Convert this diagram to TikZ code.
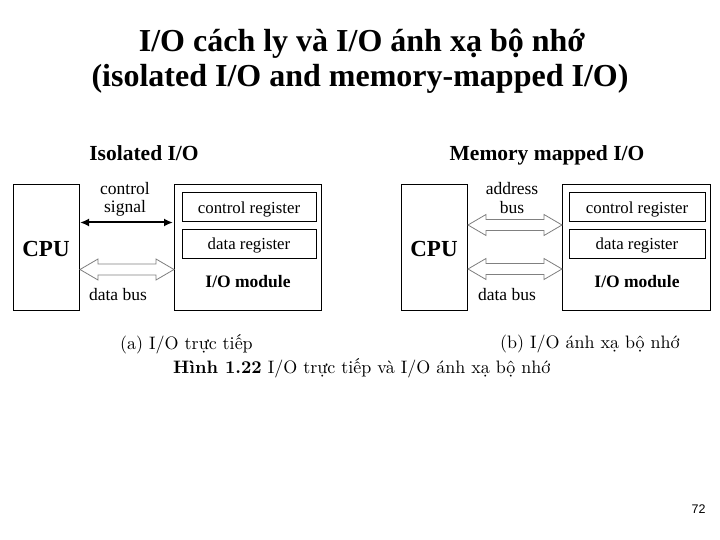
\documentclass[tikz,border=0pt]{standalone}
\usepackage{fontspec}
\newfontfamily\tnr{Liberation Serif}
\newfontfamily\lsans{Liberation Sans}
\newfontfamily\lmten{lmroman10-regular.otf}[BoldFont=lmroman10-bold.otf]
\usetikzlibrary{arrows.meta,calc}
\tikzset{
  box/.style={draw=black, line width=1pt, inner sep=0pt},
  reg/.style={draw=black, line width=1pt, inner sep=0pt, minimum height=29pt, text height=15.6pt, text depth=4pt, font=\tnr\fontsize{16.8}{18}\selectfont},
  lbl/.style={font=\tnr\fontsize{17.5}{19}\selectfont, inner sep=0pt},
  hd/.style={font=\tnr\bfseries\fontsize{21.5}{24}\selectfont, inner sep=0pt, anchor=base},
  cpu/.style={font=\tnr\bfseries\fontsize{23}{25}\selectfont, inner sep=0pt},
  modl/.style={font=\tnr\bfseries\fontsize{17.5}{19}\selectfont, inner sep=0pt},
  ttl/.style={font=\tnr\bfseries\fontsize{32}{36}\selectfont, inner sep=0pt, anchor=base},
  captxt/.style={font=\lmten\fontsize{18}{21}\selectfont, inner sep=0pt, anchor=west},
  ctrl/.style={line width=2pt, black, {Latex[length=9pt,width=8pt]}-{Latex[length=9pt,width=8pt]}, shorten <=0.5pt, shorten >=0.5pt},
  busline/.style={draw=black!50, fill=white, line width=0.8pt, line join=miter}
}
% hollow double arrow between x-positions #1 and #2 at height #3
\newcommand\busarrow[3]{%
  \draw[busline] (#1,#3) -- ++(18,-10.5) -- ++(0,5) -- ($(#2,#3)+(-18,-5.5)$) -- ++(0,-5) -- (#2,#3)
    -- ++(-18,10.5) -- ++(0,-5) -- ($(#1,#3)+(18,5.5)$) -- ++(0,5) -- cycle;}
\begin{document}
\begin{tikzpicture}[x=1pt,y=-1pt]
\useasboundingbox[fill=white] (0,0) rectangle (720,540);
% title
\node[ttl] (t1) at (362,52) {I/O cách ly và I/O ánh xạ bộ nhớ};
\node[ttl] (t2) at (360,87) {(isolated I/O and memory-mapped I/O)};
% ---------- left: isolated I/O
\node[hd] (h1) at (144,161) {Isolated I/O};
\node[box, minimum width=66pt, minimum height=125pt] (cpu1) at (46,247.5) {};
\node[cpu] (cpu1t) at (46,249) {CPU};
\node[box, minimum width=147pt, minimum height=125pt] (io1) at (247.5,247.5) {};
\node[reg, minimum width=134pt] (cr1) at (249,207.5) {control register};
\node[reg, minimum width=134pt] (dr1) at (249,244) {data register};
\node[modl] (m1) at (248,282) {I/O module};
\node[lbl] (c1a) at (125,189) {control};
\node[lbl] (c1b) at (125,208) {signal};
\node[lbl] (d1) at (118,295) {data bus};
\coordinate (ya) at (0,222.5);
\draw[ctrl] (cpu1.east |- ya) -- (io1.west |- ya);
\busarrow{80}{174}{269.5}
% ---------- right: memory mapped I/O
\node[hd] (h2) at (547,161) {Memory mapped I/O};
\node[box, minimum width=66pt, minimum height=125pt] (cpu2) at (434,247.5) {};
\node[cpu] (cpu2t) at (434,249) {CPU};
\node[box, minimum width=148pt, minimum height=125pt] (io2) at (636,247.5) {};
\node[reg, minimum width=136pt] (cr2) at (637,207.5) {control register};
\node[reg, minimum width=136pt] (dr2) at (637,244) {data register};
\node[modl] (m2) at (637,282) {I/O module};
\node[lbl] (a2a) at (512,189) {address};
\node[lbl] (a2b) at (512,208) {bus};
\node[lbl] (d2) at (507,295) {data bus};
\busarrow{468}{562}{225}
\busarrow{468}{562}{269}
% ---------- captions
\node[captxt] (ca) at (120,344) {(a) I/O trực tiếp};
\node[captxt] (cb) at (500,344) {(b) I/O ánh xạ bộ nhớ};
\node[captxt] (cc) at (173,368.5) {\textbf{Hình 1.22} I/O trực tiếp và I/O ánh xạ bộ nhớ};
% page number
\node[font=\lsans\fontsize{12.5}{14}\selectfont, inner sep=0pt] (pg) at (698.5,509) {72};
\end{tikzpicture}
\end{document}
